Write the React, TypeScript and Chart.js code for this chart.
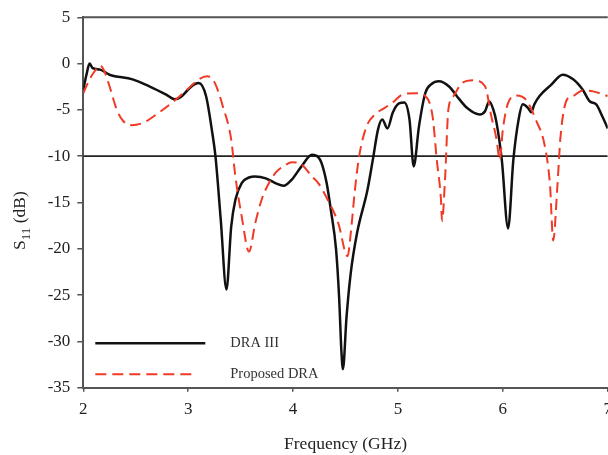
import React, { useEffect, useRef } from "react";
import { Chart, registerables } from "chart.js";

Chart.register(...registerables);

// Reflection coefficient S11 (dB) versus frequency (GHz)
const freqDra3 = [
  2.0, 2.03, 2.06, 2.09, 2.16, 2.25, 2.47, 2.63, 2.79, 2.87, 2.93, 3.0, 3.05, 3.1,
  3.17, 3.23, 3.26, 3.31, 3.365, 3.41, 3.45, 3.51, 3.58, 3.64, 3.74, 3.83, 3.91,
  3.99, 4.08, 4.18, 4.24, 4.27, 4.32, 4.36, 4.41, 4.44, 4.46, 4.475, 4.51, 4.55,
  4.61, 4.71, 4.76, 4.81, 4.85, 4.9, 4.95, 5.01, 5.06, 5.11, 5.15, 5.2, 5.26,
  5.32, 5.39, 5.49, 5.56, 5.66, 5.78, 5.83, 5.87, 5.91, 5.94, 5.99, 6.05, 6.1,
  6.15, 6.19, 6.24, 6.27, 6.3, 6.35, 6.46, 6.57, 6.67, 6.76, 6.83, 6.89, 6.94, 7.0,
];
const s11Dra3 = [
  -2.8, -1.2, 0.0, -0.5, -0.65, -1.2, -1.7, -2.45, -3.35, -3.85, -3.6, -2.8, -2.3,
  -2.1, -3.5, -7.5, -10.0, -16.8, -24.4, -17.6, -14.7, -12.9, -12.3, -12.2, -12.4,
  -12.9, -13.2, -12.5, -11.1, -9.85, -10.1, -10.7, -12.9, -15.8, -20.1, -25.5,
  -30.9, -33.0, -27.3, -22.6, -18.3, -13.6, -10.4, -7.1, -6.05, -7.0, -5.3, -4.3,
  -4.2, -6.05, -11.1, -6.8, -3.2, -2.2, -1.9, -2.5, -3.5, -4.8, -5.5, -5.15, -4.1,
  -5.0, -6.4, -10.4, -17.8, -10.4, -6.05, -4.4, -4.8, -5.25, -4.4, -3.5, -2.3,
  -1.2, -1.7, -2.8, -4.1, -4.4, -5.5, -7.0,
];

const freqProposed = [
  2.0, 2.06, 2.11, 2.16, 2.2, 2.25, 2.32, 2.38, 2.46, 2.57, 2.72, 2.88, 3.01, 3.1,
  3.18, 3.25, 3.33, 3.41, 3.45, 3.51, 3.58, 3.64, 3.7, 3.77, 3.84, 3.92, 3.99,
  4.07, 4.18, 4.24, 4.33, 4.43, 4.52, 4.55, 4.59, 4.63, 4.7, 4.78, 4.87, 4.95,
  5.04, 5.17, 5.26, 5.33, 5.37, 5.41, 5.42, 5.45, 5.48, 5.53, 5.61, 5.72, 5.83,
  5.89, 5.94, 5.97, 6.0, 6.05, 6.13, 6.22, 6.32, 6.4, 6.45, 6.48, 6.52, 6.55,
  6.61, 6.67, 6.76, 6.86, 7.0,
];
const s11Proposed = [
  -3.2, -1.7, -0.8, -0.2, -0.8, -2.45, -5.0, -6.2, -6.65, -6.4, -5.3, -3.9, -2.6,
  -1.7, -1.37, -2.0, -4.6, -8.2, -12.2, -16.5, -20.3, -17.2, -14.7, -12.9, -11.7,
  -11.0, -10.65, -10.8, -12.2, -12.9, -14.7, -17.2, -20.8, -18.3, -13.6, -10.0,
  -6.8, -5.5, -4.8, -4.2, -3.35, -3.2, -3.5, -5.7, -10.4, -14.7, -17.0, -12.2,
  -5.0, -3.5, -2.1, -1.8, -2.45, -5.7, -8.2, -10.4, -7.1, -4.25, -3.45, -3.9,
  -6.2, -8.9, -13.2, -19.1, -13.2, -7.85, -3.9, -3.5, -2.9, -3.0, -3.5,
];

// -10 dB reference level
const thresholdDb = -10;
const freqRange = [2, 7];
const s11Range = [-35, 5];
const seriesLabels = ["DRA III", "Proposed DRA"];

const SERIF = "'Liberation Serif', 'Times New Roman', serif";
const AXIS_COLOR = "#555";
const RED = "rgb(240, 58, 38)";

const toPoints = (xs: number[], ys: number[]) => xs.map((x, i) => ({ x, y: ys[i] }));

const decorations = {
  id: "decorations",
  afterDraw(chart: any) {
    const { ctx, chartArea } = chart;
    const { left, right, top } = chartArea;
    ctx.save();

    // top frame line
    ctx.strokeStyle = AXIS_COLOR;
    ctx.lineWidth = 2;
    ctx.beginPath();
    ctx.moveTo(left - 1, top);
    ctx.lineTo(right, top);
    ctx.stroke();

    // legend inside the plot, lower left
    const legendY = [343.3, 374.3];
    ctx.lineCap = "butt";
    ctx.strokeStyle = "#111";
    ctx.lineWidth = 2.5;
    ctx.setLineDash([]);
    ctx.beginPath();
    ctx.moveTo(left + 12, legendY[0]);
    ctx.lineTo(left + 122, legendY[0]);
    ctx.stroke();

    ctx.strokeStyle = RED;
    ctx.lineWidth = 2;
    ctx.setLineDash([11, 6]);
    ctx.beginPath();
    ctx.moveTo(left + 12, legendY[1]);
    ctx.lineTo(left + 109, legendY[1]);
    ctx.stroke();
    ctx.setLineDash([]);

    ctx.fillStyle = "#333";
    ctx.font = `14.5px ${SERIF}`;
    ctx.textAlign = "left";
    ctx.textBaseline = "middle";
    ctx.fillText(seriesLabels[0], left + 147, legendY[0]);
    ctx.fillText(seriesLabels[1], left + 147, legendY[1]);

    // y axis title with subscript: S11 (dB)
    ctx.translate(25, 250);
    ctx.rotate(-Math.PI / 2);
    ctx.textBaseline = "alphabetic";
    ctx.fillStyle = "#222";
    ctx.font = `17.5px ${SERIF}`;
    ctx.fillText("S", 0, 0);
    let x = ctx.measureText("S").width;
    ctx.font = `13px ${SERIF}`;
    ctx.fillText("11", x, 5);
    x += ctx.measureText("11").width;
    ctx.font = `17.5px ${SERIF}`;
    ctx.fillText(" (dB)", x, 0);

    ctx.restore();
  },
};

export default function App() {
  const canvasRef = useRef<HTMLCanvasElement | null>(null);

  useEffect(() => {
    if (!canvasRef.current) return;
    const chart = new Chart(canvasRef.current, {
      type: "line",
      data: {
        datasets: [
          {
            label: seriesLabels[1],
            data: toPoints(freqProposed, s11Proposed),
            borderColor: RED,
            borderWidth: 2,
            borderDash: [11, 6],
            pointRadius: 0,
            cubicInterpolationMode: "monotone",
            fill: false,
          },
          {
            label: seriesLabels[0],
            data: toPoints(freqDra3, s11Dra3),
            borderColor: "#111",
            borderWidth: 2.5,
            pointRadius: 0,
            cubicInterpolationMode: "monotone",
            fill: false,
          },
          {
            label: "-10 dB",
            data: toPoints(freqRange, [thresholdDb, thresholdDb]),
            borderColor: "#222",
            borderWidth: 1.8,
            pointRadius: 0,
            tension: 0,
            fill: false,
          },
        ],
      },
      options: {
        responsive: false,
        animation: false,
        layout: { padding: { left: 0, top: 17.3, right: 8, bottom: 0 } },
        plugins: {
          legend: { display: false },
          tooltip: { enabled: false },
        },
        scales: {
          x: {
            type: "linear",
            min: freqRange[0],
            max: freqRange[1],
            afterFit: (scale: any) => {
              scale.height = 67.3;
            },
            ticks: {
              stepSize: 1,
              padding: 8,
              color: "#222",
              font: { family: SERIF, size: 17 },
              maxRotation: 0,
            },
            grid: {
              display: true,
              drawOnChartArea: false,
              drawTicks: true,
              tickLength: 4,
              color: AXIS_COLOR,
              lineWidth: 1.5,
            },
            border: { display: true, color: AXIS_COLOR, width: 2 },
            title: {
              display: true,
              text: "Frequency (GHz)",
              color: "#222",
              font: { family: SERIF, size: 17.5 },
              padding: { top: 0, bottom: 0 },
            },
          },
          y: {
            type: "linear",
            min: s11Range[0],
            max: s11Range[1],
            afterFit: (scale: any) => {
              scale.width = 83.3;
            },
            ticks: {
              stepSize: 5,
              padding: 7,
              color: "#222",
              font: { family: SERIF, size: 17 },
            },
            grid: {
              display: true,
              drawOnChartArea: false,
              drawTicks: true,
              tickLength: 6,
              color: AXIS_COLOR,
              lineWidth: 1.5,
            },
            border: { display: true, color: AXIS_COLOR, width: 2 },
          },
        },
      },
      plugins: [decorations],
    });
    return () => chart.destroy();
  }, []);

  return (
    <div
      style={{
        position: "fixed",
        left: 0,
        top: 0,
        width: 608,
        height: 455,
        overflow: "hidden",
        background: "#fff",
      }}
    >
      <canvas ref={canvasRef} width={620} height={455} style={{ display: "block" }} />
    </div>
  );
}
